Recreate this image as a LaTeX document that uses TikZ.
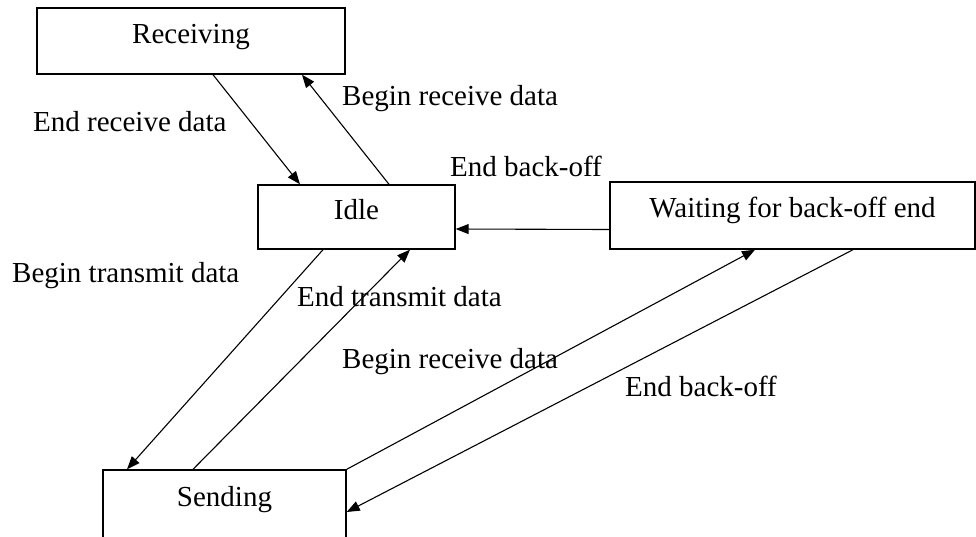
\documentclass[tikz,border=0pt]{standalone}
\usepackage{fontspec}
\setmainfont{Liberation Serif}
\usetikzlibrary{arrows.meta}
\tikzstyle{stbox}=[draw=black,line width=1.4pt,inner sep=0pt,text height=18pt,text depth=13.4pt]
\tikzstyle{lbl}=[anchor=west,inner sep=0pt]
\tikzstyle{arr}=[line width=1.1pt,-{Triangle[length=13pt,width=10pt]}]

\begin{document}
\begin{tikzpicture}[x=1pt,y=-1pt,font=\fontsize{29}{33}\selectfont]
  \useasboundingbox (0,0) rectangle (976,536);
  % states
  \node [stbox,minimum width=308pt,minimum height=66pt] (rec)  at (191,41)    {Receiving};
  \node [stbox,minimum width=197pt,minimum height=64pt] (idle) at (356.5,217) {Idle};
  \node [stbox,minimum width=365pt,minimum height=67pt] (wait) at (792.5,215.5) {Waiting for back-off end};
  \node [stbox,minimum width=243pt,minimum height=68pt] (send) at (224.5,504) {Sending};
  % transitions
  \draw [arr] ([xshift=22pt]rec.south) -- ([xshift=-56.5pt]idle.north);
  \draw [arr] ([xshift=32.5pt]idle.north) -- ([xshift=111pt]rec.south);
  \draw [arr] ([yshift=-14pt]wait.west) -- ([yshift=-12pt]idle.east);
  \draw [arr] ([xshift=-33.5pt]idle.south) -- ([xshift=-97.5pt]send.north);
  \draw [arr] ([xshift=-31.5pt]send.north) -- ([xshift=53.5pt]idle.south);
  \draw [arr] (send.north east) -- ([xshift=-37.5pt]wait.south);
  \draw [arr] ([xshift=60.5pt]wait.south) -- ([yshift=-8pt]send.east);
  % labels
  \node [lbl] (l1) at (33,122)  {End receive data};
  \node [lbl] (l2) at (342,99)  {Begin receive data};
  \node [lbl] (l3) at (450,166) {End back-off};
  \node [lbl] (l4) at (12,276)  {Begin transmit data};
  \node [lbl] (l5) at (297,297) {End transmit data};
  \node [lbl] (l6) at (342,362) {Begin receive data};
  \node [lbl] (l7) at (625,386) {End back-off};
\end{tikzpicture}
\end{document}
